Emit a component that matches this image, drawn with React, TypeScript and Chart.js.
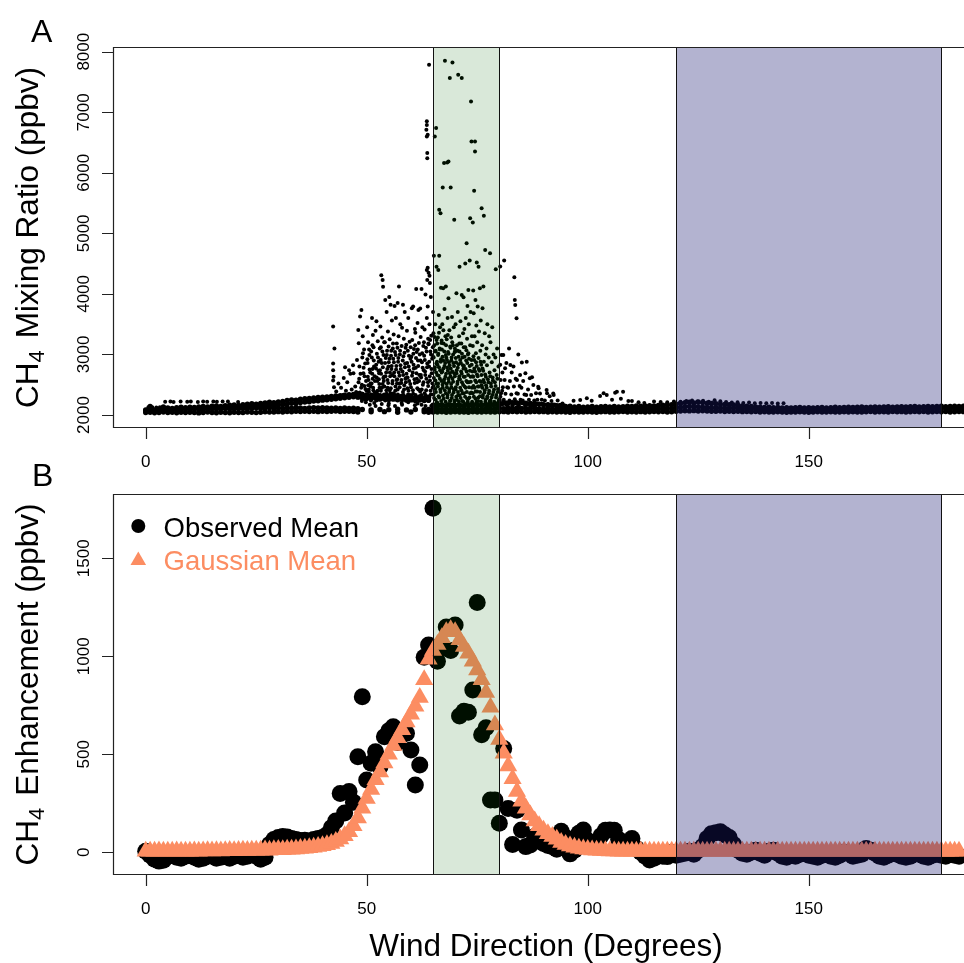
import React, { useEffect, useRef } from "react";
import { Chart, registerables } from "chart.js";
Chart.register(...registerables);

const FONT = '"Liberation Sans", Arial, Helvetica, sans-serif';

// ---------- shared ----------
const xTicks = [0, 50, 100, 150];
const greenSector = [65, 80];
const blueSector = [120, 180];

// ---------- Panel A : CH4 mixing ratio (ppbv) vs wind direction ----------
const yTicksA = [2000, 3000, 4000, 5000, 6000, 7000, 8000];

const bandDeg = [
  0,1,2,3,4,5,6,7,8,9,10,11,12,13,14,15,16,17,18,19,20,21,22,23,24,25,26,27,28,29,
  30,31,32,33,34,35,36,37,38,39,40,41,42,43,44,45,46,47,48,49,50,51,52,53,54,55,56,57,58,59,
  60,61,62,63,64,65,66,67,68,69,70,71,72,73,74,75,76,77,78,79,80,81,82,83,84,85,86,87,88,89,
  90,91,92,93,94,95,96,97,98,99,100,101,102,103,104,105,106,107,108,109,110,111,112,113,114,115,116,117,118,119,
  120,121,122,123,124,125,126,127,128,129,130,131,132,133,134,135,136,137,138,139,140,141,142,143,144,145,146,147,148,149,
  150,151,152,153,154,155,156,157,158,159,160,161,162,163,164,165,166,167,168,169,170,171,172,173,174,175,176,177,178,179,
  180,181,182,183,184,185,
];

const bandLow: (number | null)[] = [
  2040,2045,2038,2042,2050,2040,2045,2038,2044,2040,
  2046,2040,2035,2042,2048,2040,2036,2044,2040,2038,
  2045,2040,2042,2050,2044,2040,2046,2052,2048,2050,
  2055,2050,2058,2052,2060,2056,2062,2058,2060,2055,
  2062,2058,2060,2064,2058,2062,2060,2056,2050,null,
  null,2052,null,null,2055,null,null,2046,null,null,
  2050,null,null,2052,2045,2050,2048,2052,2046,2050,
  2052,2048,2050,2046,2052,2048,2050,2054,2050,2048,
  2052,2055,2050,2058,2052,2056,2050,2054,2058,2052,
  2055,2050,2052,2048,2054,2050,2046,2052,2048,2050,
  2054,2050,2046,2052,2055,2050,2048,2052,2056,2050,
  2052,2048,2055,2050,2054,2058,2052,2056,2050,2054,
  2060,2065,2070,2068,2072,2065,2070,2066,2062,2060,
  2064,2058,2062,2056,2060,2055,2058,2052,2056,2050,
  2054,2050,2048,2052,2050,2046,2050,2048,2052,2050,
  2046,2050,2052,2048,2050,2054,2050,2048,2052,2050,
  2054,2050,2048,2052,2056,2050,2054,2052,2050,2056,
  2052,2055,2050,2054,2058,2052,2056,2050,2054,2058,
  2052,2056,2050,2054,2058,2055,
];

const bandMid: (number | null)[] = [
  2085,2090,2080,2088,2092,2085,2090,2082,2088,2095,
  2090,2098,2092,2100,2095,2105,2098,2102,2108,2100,
  2110,2105,2115,2108,2112,2118,2110,2115,2120,2112,
  2115,2110,2118,2112,2120,2115,2110,2118,2122,2115,
  2120,2115,2112,2118,2110,2115,2108,2112,2105,2090,
  null,2085,null,2092,null,2088,null,2095,null,2084,
  null,2090,null,2086,2090,2095,2100,2092,2098,2094,
  2090,2096,2092,2098,2094,2100,2096,2102,2098,2104,
  2110,2105,2112,2108,2115,2110,2106,2112,2108,2102,
  2098,2104,2100,2096,2102,2098,2094,2100,2096,2092,
  2098,2094,2100,2096,2092,2098,2094,2100,2096,2102,
  2098,2104,2100,2106,2102,2108,2104,2110,2106,2112,
  2120,2130,2135,2140,2132,2138,2130,2125,2120,2115,
  2118,2112,2108,2114,2110,2106,2102,2108,2104,2100,
  2096,2100,2094,2098,2092,2096,2090,2094,2098,2092,
  2096,2090,2094,2098,2092,2096,2100,2094,2098,2102,
  2096,2100,2104,2098,2102,2096,2100,2104,2108,2102,
  2106,2100,2104,2108,2102,2106,2110,2104,2108,2112,
  2106,2110,2104,2108,2112,2106,
];

const bandHigh: (number | null)[] = [
  2070,2140,2072,2068,2135,2118,2110,2122,2128,2120,
  2130,2125,2135,2140,2132,2145,2150,2142,2155,2160,
  2165,2158,2170,2178,2185,2180,2192,2200,2210,2205,
  2215,2225,2240,2250,2245,2260,2268,2275,2282,2290,
  2295,2300,2308,2315,2320,2328,2335,2340,2350,2340,
  2330,2320,2335,2310,2325,2300,2315,2295,2310,2290,
  2305,2285,2300,2280,2295,2160,2150,2165,2155,2160,
  2150,2160,2155,2165,2160,2170,2165,2175,2180,2185,
  2190,2200,2195,2205,2200,2210,2195,2190,2185,2180,
  2170,2165,2160,2150,2155,2140,2145,2135,2140,2130,
  2135,2140,2130,2138,2142,2135,2140,2132,2138,2145,
  2140,2148,2145,2150,2155,2150,2158,2160,2165,2170,
  2180,2195,2205,2210,2200,2215,2205,2195,2190,2185,
  2180,2175,2170,2165,2160,2150,2145,2140,2135,2130,
  2125,2130,2120,2125,2118,2122,2115,2120,2125,2118,
  2122,2115,2120,2125,2118,2122,2128,2120,2125,2130,
  2124,2128,2132,2126,2130,2135,2128,2132,2136,2130,
  2134,2138,2132,2136,2140,2134,2138,2142,2136,2140,
  2144,2138,2142,2146,2140,2144,
];

const streakDeg = [
  18,19,20,21,22,23,24,25,26,27,28,29,30,31,32,33,34,35,36,37,38,39,40,41,
  42,43,44,45,46,47,48,49,50,51,52,53,54,55,56,57,58,59,60,61,62,63,64,
];
const streakVal = [
  2125,2130,2138,2130,2142,2140,2148,2150,2155,2160,2165,2160,2168,2175,2180,2195,
  2190,2205,2215,2220,2230,2235,2245,2250,2260,2268,2275,2285,2292,2300,2295,2280,
  2275,2268,2280,2262,2270,2255,2262,2250,2258,2245,2252,2240,2248,2238,2245,
];

const sparseA: [number, number][] = [
  [4.4,2220],[5.6,2225],[6.3,2215],[7.9,2222],[9.4,2218],[10.2,2224],[11.8,2216],[13.0,2222],
  [13.9,2219],[15.3,2225],[16.1,2217],[17.4,2221],[18.6,2223],[20.9,2214],[0.6,2126],[1.5,2130],
  [2.4,2122],[3.2,2128],
  [96.8,2237],[98.3,2248],[99.8,2276],[100.9,2237],[102.8,2314],[103.6,2358],[104.3,2331],[106.2,2369],
  [106.6,2385],[109.2,2232],[110.0,2232],[108.0,2385],[105.5,2250],[107.5,2270],[111.5,2210],[112.8,2200],
  [115.0,2221],[116.5,2215],[118.0,2210],[119.5,2225],[121.0,2218],[122.3,2230],[123.6,2240],[124.8,2225],
  [126.1,2235],[127.4,2220],[128.7,2245],[130.0,2228],[131.3,2215],[132.6,2205],[133.9,2212],[135.2,2200],
  [136.5,2205],[137.8,2196],[139.1,2200],[140.4,2193],[141.7,2198],[143.0,2190],[144.3,2193],
  [81.05,2190],[81.5,2210],[82.1,2190],[82.6,2210],[83.2,2200],[83.7,2215],[84.3,2195],[84.9,2205],
  [85.4,2190],[86.0,2200],[86.6,2185],[87.2,2195],[87.8,2180],[88.4,2190],[89.0,2175],[89.6,2185],
  [90.3,2170],[91.0,2180],[91.7,2165],[92.4,2175],[93.1,2160],[93.8,2170],[94.6,2160],
];

const plumeA: [number, number][] = [
  [42.4,3460],[42.7,3100],[42.4,2850],[42.4,2740],[42.5,2630],[42.4,2570],[42.6,2460],[43.1,2390],[43.6,2520],
  [44.2,2450],[44.8,2610],[45.1,2790],[45.6,2540],[46.0,2740],[46.3,2680],[46.9,2820],[47.0,2690],[47.4,2470],
  [47.8,2910],[48.1,3405],[48.2,3185],[48.5,3625],[48.3,2600],[47.6,2380],[46.6,2420],[45.3,2400],[44.6,2330],
  [48.8,3735],[49.1,3300],[49.0,2950],[49.3,2780],[49.5,2640],[48.9,2500],[49.7,2430],[49.2,2300],[49.8,2210],
  [49.4,3080],[50.1,3450],[50.3,3200],[50.6,2990],[50.2,2860],[50.8,2700],[50.4,2580],[50.9,2470],[50.5,2380],
  [50.0,2260],[50.7,2170],[51.2,3600],[51.4,3320],[51.0,3050],[51.6,2900],[51.3,2760],[51.8,2640],[51.1,2520],
  [51.5,2410],[51.9,2300],[51.7,2200],[51.3,3150],[52.2,3550],[52.0,3390],[52.5,3220],[52.3,3010],[52.7,2880],
  [52.1,2770],[52.8,2690],[52.4,2560],[52.9,2450],[52.6,2330],[52.2,2240],[52.0,2150],
  [53.3,4310],[53.6,4230],[53.7,4117],[53.1,3460],[53.5,3280],[53.2,3120],[53.8,2990],[53.4,2860],[53.0,2740],
  [53.9,2630],[53.6,2510],[53.2,2400],[53.8,2290],[53.4,2180],[54.2,3900],[54.5,3700],[54.8,3380],[54.1,3200],
  [54.6,3060],[54.3,2940],[54.9,2800],[54.4,2700],[54.7,2580],[54.0,2470],[54.5,2350],[54.2,2240],[54.9,2160],
  [55.1,3950],[55.4,3820],[55.7,3560],[55.2,3250],[55.9,3100],[55.5,2980],[55.0,2870],[55.6,2760],[55.3,2640],
  [55.8,2520],[55.2,2410],[55.6,2300],[55.0,2190],[56.3,3800],[56.6,3600],[56.1,3330],[56.8,3180],[56.4,3040],
  [56.0,2930],[56.7,2810],[56.2,2700],[56.9,2590],[56.5,2470],[56.1,2360],[56.8,2250],[56.4,2150],
  [57.3,4121],[57.0,3850],[57.6,3500],[57.2,3300],[57.9,3140],[57.5,3000],[57.1,2880],[57.7,2760],[57.4,2650],
  [57.8,2530],[57.0,2420],[57.5,2310],[57.9,2200],[58.2,3820],[58.6,3700],[58.0,3440],[58.4,3260],[58.8,3110],
  [58.3,2970],[58.7,2850],[58.1,2720],[58.9,2610],[58.5,2490],[58.2,2380],[58.6,2270],[58.0,2170],[59.4,3600],
  [59.1,3390],[59.7,3210],[59.3,3060],[59.9,2930],[59.5,2800],[59.0,2680],[59.6,2560],[59.2,2440],[59.8,2330],
  [59.4,2210],[60.2,3762],[60.5,3790],[60.9,3420],[60.3,3240],[60.7,3090],[60.1,2960],[60.6,2830],[60.4,2700],
  [60.8,2590],[60.0,2460],[60.5,2350],[60.3,2240],[60.9,2160],
  [61.2,4080],[61.7,3735],[61.5,3520],[61.0,3360],[61.8,3190],[61.3,3040],[61.6,2900],[61.1,2780],[61.9,2660],
  [61.4,2540],[61.7,2420],[61.2,2300],[61.5,2190],[62.4,4080],[62.1,3760],[62.6,3450],[62.2,3290],[62.8,3140],
  [62.0,3000],[62.5,2870],[62.9,2740],[62.3,2620],[62.7,2500],[62.1,2390],[62.6,2270],[62.4,2170],[63.8,3790],
  [63.3,3990],[63.6,3600],[63.1,3410],[63.9,3260],[63.4,3110],[63.0,2980],[63.7,2850],[63.2,2720],[63.5,2600],
  [63.9,2480],[63.1,2360],[63.6,2250],[63.3,2150],[64.1,7785],[63.6,6850],[63.6,6790],[63.5,6710],[63.8,6630],
  [63.6,6600],[63.7,6325],[63.7,6242],[63.6,4396],[63.8,4430],[64.0,4350],[64.2,4300],[63.7,4231],[64.3,4180],
  [64.5,3950],[64.2,3500],[64.6,3310],[64.0,3170],[64.4,3050],[64.8,2930],[64.1,2800],[64.7,2690],[64.3,2570],
  [64.9,2450],[64.5,2340],[64.0,2230],[64.6,2150],
  [65.7,6738],[65.4,6600],[65.8,4450],[66.2,4396],[65.2,4630],[65.0,3700],[65.5,3500],[65.1,3350],[65.8,3240],
  [65.3,3150],[65.6,3060],[65.0,2960],[65.9,2880],[65.4,2790],[65.7,2700],[65.2,2610],[65.8,2520],[65.5,2430],
  [65.1,2340],[65.6,2250],[65.3,2170],[66.4,5388],[66.7,5333],[66.4,4628],[66.8,4100],[66.3,3650],[66.6,3450],
  [66.1,3280],[66.9,3190],[66.5,3100],[66.2,3010],[66.8,2920],[66.0,2830],[66.6,2740],[66.3,2650],[66.9,2560],
  [66.1,2470],[66.7,2380],[66.4,2290],[66.0,2200],[67.7,7851],[67.5,6160],[67.2,5757],[67.3,4093],[67.6,3750],
  [67.1,3500],[67.8,3300],[67.4,3180],[67.0,3080],[67.9,2990],[67.3,2900],[67.6,2810],[67.1,2720],[67.8,2630],
  [67.5,2540],[67.2,2450],[67.9,2360],[67.4,2270],[67.0,2180],[68.8,7564],[68.5,6188],[68.2,6170],[67.9,4121],
  [68.5,3927],[68.3,3600],[68.7,3400],[68.1,3250],[68.9,3130],[68.4,3040],[68.0,2950],[68.6,2870],[68.2,2780],
  [68.8,2690],[68.5,2600],[68.1,2510],[68.7,2420],[68.3,2330],[68.9,2240],[68.6,2160],
  [69.4,7823],[69.0,5757],[69.8,5223],[69.3,3620],[69.7,3450],[69.1,3280],[69.5,3150],[69.9,3040],[69.2,2950],
  [69.6,2860],[69.0,2770],[69.8,2690],[69.4,2600],[69.1,2510],[69.7,2420],[69.3,2330],[69.9,2240],[69.5,2160],
  [70.7,7619],[70.3,4010],[70.6,3700],[70.1,3500],[70.9,3300],[70.4,3150],[70.0,3050],[70.8,2960],[70.2,2870],
  [70.6,2780],[70.3,2690],[70.9,2600],[70.5,2510],[70.1,2420],[70.7,2330],[70.4,2250],[70.0,2170],[71.5,7564],
  [71.0,4450],[71.5,3983],[71.2,3550],[71.8,3350],[71.4,3180],[71.0,3050],[71.7,2950],[71.3,2860],[71.9,2770],
  [71.5,2680],[71.1,2590],[71.8,2500],[71.4,2410],[71.0,2320],[71.6,2230],[71.2,2150],[72.6,4837],[72.3,4500],
  [71.9,3944],[72.8,3800],[72.4,3600],[72.1,3420],[72.7,3260],[72.3,3120],[72.9,3000],[72.5,2900],[72.0,2810],
  [72.6,2720],[72.2,2630],[72.8,2540],[72.4,2450],[72.0,2360],[72.7,2270],[72.3,2180],
  [73.6,7179],[73.7,6517],[73.4,5250],[73.3,4550],[73.0,4066],[73.5,3700],[73.1,3500],[73.8,3300],[73.4,3150],
  [73.0,3020],[73.7,2910],[73.3,2810],[73.9,2720],[73.5,2630],[73.1,2540],[73.8,2450],[73.4,2360],[73.0,2270],
  [73.6,2180],[74.5,6517],[74.5,6352],[74.3,5702],[74.0,5178],[74.9,4520],[74.1,4055],[74.6,3900],[74.2,3680],
  [74.8,3480],[74.4,3300],[74.0,3140],[74.7,3020],[74.3,2910],[74.9,2810],[74.5,2720],[74.1,2630],[74.8,2540],
  [74.4,2450],[74.0,2360],[74.6,2270],[74.2,2180],[75.3,4450],[75.6,4093],[75.1,3790],[75.8,3560],[75.4,3380],
  [75.0,3200],[75.7,3060],[75.3,2940],[75.9,2830],[75.5,2730],[75.1,2640],[75.8,2550],[75.4,2470],[75.0,2390],
  [75.6,2310],[75.2,2230],[75.9,2160],[76.0,5415],[76.5,5289],[76.8,4727],[76.4,4121],[76.2,3762],[76.7,3350],
  [76.1,3150],[76.9,3000],[76.5,2880],[76.2,2770],[76.8,2670],[76.4,2580],[76.0,2490],[76.7,2410],[76.3,2330],
  [76.9,2250],[76.6,2170],
  [77.9,4672],[77.3,3500],[77.7,3300],[77.1,3100],[77.6,2950],[77.2,2820],[77.8,2700],[77.4,2590],[77.0,2490],
  [77.7,2400],[77.3,2310],[77.9,2230],[77.5,2150],[78.4,3450],[78.0,3200],[78.7,3000],[78.3,2870],[78.9,2740],
  [78.5,2620],[78.1,2520],[78.8,2420],[78.4,2330],[78.0,2240],[78.6,2160],[79.2,4407],[79.5,3100],[79.1,2950],
  [79.8,2800],[79.4,2660],[79.0,2540],[79.7,2430],[79.3,2330],[79.9,2240],[79.5,2160],[80.2,4451],[80.5,2990],
  [80.9,2992],[80.2,2830],[80.7,2700],[80.3,2580],[80.8,2460],[80.4,2360],[80.0,2260],[80.6,2170],[81.1,4550],
  [81.3,2772],[81.6,2860],[81.2,2580],[81.8,2460],[81.4,2350],[81.0,2250],[81.7,2160],[82.5,2827],[82.2,3100],
  [82.8,2700],[82.4,2560],[82.0,2450],[82.7,2340],[82.3,2240],[82.9,2150],[83.4,4275],[83.5,3900],[83.6,3818],
  [83.9,3597],[83.2,2799],[83.7,2600],[83.3,2470],[83.9,2360],[83.5,2260],[83.1,2170],[84.0,2579],[84.7,2661],
  [84.3,3000],[84.6,2480],[84.2,2350],[84.8,2250],[84.4,2160],
  [85.1,2865],[85.9,2689],[85.4,2560],[85.0,2450],[85.7,2340],[85.3,2240],[85.8,2150],[86.2,2880],[86.9,2605],
  [86.5,2420],[86.1,2331],[86.7,2250],[86.3,2170],[87.4,2623],[87.7,2496],[87.2,2330],[87.9,2240],[87.5,2160],
  [88.8,2468],[88.9,2441],[88.3,2358],[88.6,2250],[88.1,2150],[89.2,2357],[89.6,2250],[89.9,2170],[90.7,2412],
  [90.8,2358],[90.3,2240],[90.9,2160],[91.4,2310],[91.8,2230],[92.2,2357],[92.3,2331],[92.7,2170],[93.2,2240],
  [93.6,2160],[94.3,2190],
];

// extra measurements filling the dense core of the plume
const plumeCore: [number, number][] = [
  [48.05,2290],[48.45,2370],[48.75,2450],[48.15,2540],[48.6,2680],[48.35,2800],[48.9,2230],
  [49.05,2350],[49.45,2480],[49.85,2560],[49.25,2690],[49.65,2850],[49.15,3020],[49.55,2260],[49.95,2400],
  [50.05,2310],[50.45,2420],[50.85,2520],[50.25,2630],[50.65,2750],[50.15,2920],[50.55,3080],[50.95,2240],[50.35,2490],
  [51.05,2340],[51.45,2450],[51.85,2560],[51.25,2680],[51.65,2800],[51.15,2950],[51.55,3120],[51.95,2270],[51.35,2600],[51.75,2380],
  [52.05,2290],[52.45,2400],[52.85,2510],[52.25,2620],[52.65,2730],[52.15,2830],[52.55,2950],[52.95,3100],[52.35,2350],[52.75,2590],
  [53.05,2330],[53.45,2450],[53.85,2560],[53.25,2680],[53.65,2790],[53.15,2910],[53.55,3050],[53.95,3200],[53.35,2270],[53.75,2610],
  [54.05,2300],[54.45,2410],[54.85,2530],[54.25,2640],[54.65,2760],[54.15,2860],[54.55,2990],[54.95,3130],[54.35,2280],[54.75,2450],
  [55.05,2320],[55.45,2440],[55.85,2560],[55.25,2700],[55.65,2810],[55.15,2930],[55.55,3060],[55.95,3180],[55.35,2360],[55.75,2660],
  [56.05,2290],[56.45,2400],[56.85,2520],[56.25,2640],[56.65,2750],[56.15,2870],[56.55,2990],[56.95,3110],[56.35,2330],[56.75,2580],
  [57.05,2340],[57.45,2460],[57.85,2580],[57.25,2700],[57.65,2820],[57.15,2940],[57.55,3060],[57.95,2280],[57.35,2520],
  [58.05,2300],[58.45,2420],[58.85,2540],[58.25,2660],[58.65,2790],[58.15,2900],[58.55,3030],[58.95,3160],[58.35,2330],[58.75,2600],
  [59.05,2290],[59.45,2400],[59.85,2510],[59.25,2620],[59.65,2740],[59.15,2860],[59.55,2980],[59.95,3120],[59.35,2340],
  [60.05,2300],[60.45,2410],[60.85,2530],[60.25,2650],[60.65,2770],[60.15,2880],[60.55,3010],[60.95,3150],[60.35,2270],
  [61.05,2330],[61.45,2440],[61.85,2560],[61.25,2690],[61.65,2810],[61.15,2940],[61.55,3080],[61.95,2260],[61.35,2600],
  [62.05,2300],[62.45,2420],[62.85,2540],[62.25,2660],[62.65,2780],[62.15,2900],[62.55,3020],[62.95,3200],[62.35,2330],
  [63.05,2290],[63.45,2410],[63.85,2540],[63.25,2660],[63.65,2790],[63.15,2910],[63.55,3050],[63.95,3180],[63.35,2320],
  [64.05,2290],[64.45,2400],[64.85,2520],[64.25,2640],[64.65,2760],[64.15,2880],[64.55,3000],[64.95,3120],[64.35,3240],
  [65.05,2110],[65.45,2160],[65.85,2210],[65.25,2280],[65.65,2380],[65.15,2480],[65.55,2570],[65.95,2660],[65.35,2750],[65.75,2850],[65.15,2950],[65.55,3050],[65.95,3180],[65.35,3290],
  [66.05,2120],[66.45,2170],[66.85,2230],[66.25,2310],[66.65,2420],[66.15,2520],[66.55,2600],[66.95,2700],[66.35,2790],[66.75,2880],[66.15,2990],[66.55,3080],[66.95,3230],[66.35,3360],
  [67.05,2110],[67.45,2160],[67.85,2220],[67.25,2320],[67.65,2410],[67.15,2500],[67.55,2590],[67.95,2680],[67.35,2770],[67.75,2860],[67.15,2960],[67.55,3050],[67.95,3150],[67.35,3400],
  [68.05,2120],[68.45,2180],[68.85,2230],[68.25,2290],[68.65,2380],[68.15,2460],[68.55,2550],[68.95,2640],[68.35,2730],[68.75,2820],[68.15,2910],[68.55,3010],[68.95,3110],[68.35,3320],
  [69.05,2110],[69.45,2170],[69.85,2220],[69.25,2280],[69.65,2370],[69.15,2460],[69.55,2550],[69.95,2640],[69.35,2720],[69.75,2810],[69.15,2900],[69.55,3000],[69.95,3100],[69.35,3200],
  [70.05,2120],[70.45,2170],[70.85,2220],[70.25,2300],[70.65,2380],[70.15,2460],[70.55,2550],[70.95,2640],[70.35,2740],[70.75,2840],[70.15,2940],[70.55,3060],[70.95,3180],
  [71.05,2110],[71.45,2160],[71.85,2220],[71.25,2280],[71.65,2360],[71.15,2450],[71.55,2540],[71.95,2630],[71.35,2720],[71.75,2820],[71.15,2910],[71.55,3010],[71.95,3120],
  [72.05,2120],[72.45,2170],[72.85,2220],[72.25,2300],[72.65,2380],[72.15,2470],[72.55,2560],[72.95,2660],[72.35,2760],[72.75,2860],[72.15,2960],[72.55,3070],
  [73.05,2110],[73.45,2160],[73.85,2220],[73.25,2290],[73.65,2370],[73.15,2460],[73.55,2550],[73.95,2640],[73.35,2730],[73.75,2830],[73.15,2930],
  [74.05,2120],[74.45,2170],[74.85,2220],[74.25,2300],[74.65,2390],[74.15,2480],[74.55,2570],[74.95,2670],[74.35,2770],[74.75,2870],[74.15,2970],
  [75.05,2110],[75.45,2160],[75.85,2220],[75.25,2290],[75.65,2380],[75.15,2470],[75.55,2560],[75.95,2660],[75.35,2760],[75.75,2880],
  [76.05,2120],[76.45,2170],[76.85,2220],[76.25,2290],[76.65,2370],[76.15,2450],[76.55,2540],[76.95,2630],[76.35,2730],
  [77.05,2110],[77.45,2160],[77.85,2220],[77.25,2280],[77.65,2360],[77.15,2450],[77.55,2540],[77.95,2640],
  [78.05,2120],[78.45,2170],[78.85,2220],[78.25,2290],[78.65,2380],[78.15,2470],[78.55,2570],
  [79.05,2110],[79.45,2170],[79.85,2220],[79.25,2290],[79.65,2380],[79.15,2480],[79.55,2600],
  [80.05,2120],[80.45,2180],[80.85,2230],[80.25,2300],[80.65,2400],
];

// ---------- Panel B : CH4 enhancement (ppbv) ----------
const yTicksB = [0, 500, 1000, 1500];

const degB = [
  0,1,2,3,4,5,6,7,8,9,10,11,12,13,14,15,16,17,18,19,20,21,22,23,24,25,26,27,28,29,
  30,31,32,33,34,35,36,37,38,39,40,41,42,43,44,45,46,47,48,49,50,51,52,53,54,55,56,57,58,59,
  60,61,62,63,64,65,66,67,68,69,70,71,72,73,74,75,76,77,78,79,80,81,82,83,84,85,86,87,88,89,
  90,91,92,93,94,95,96,97,98,99,100,101,102,103,104,105,106,107,108,109,110,111,112,113,114,115,116,117,118,119,
  120,121,122,123,124,125,126,127,128,129,130,131,132,133,134,135,136,137,138,139,140,141,142,143,144,145,146,147,148,149,
  150,151,152,153,154,155,156,157,158,159,160,161,162,163,164,165,166,167,168,169,170,171,172,173,174,175,176,177,178,179,
  180,181,182,183,184,
];

const observedMean = [
  5,-15,-35,-45,-40,-20,-15,-25,-30,-20,
  -15,-25,-35,-30,-20,-10,-30,-25,-15,-30,
  -20,-15,-25,-20,-10,-20,-35,-25,40,65,
  75,80,78,70,65,60,62,58,65,70,
  75,90,125,160,300,200,310,255,488,794,
  369,454,513,437,590,620,641,560,600,607,
  522,343,445,995,1058,1755,975,1040,1150,1030,
  1160,695,720,715,828,1275,600,635,267,267,
  148,530,224,40,215,114,29,37,80,60,
  45,35,29,15,108,75,-8,10,97,114,
  60,40,30,85,112,114,112,65,40,50,
  71,20,0,-20,-39,-30,-10,-20,-22,0,
  -15,-10,-5,5,-10,10,30,70,95,100,
  105,90,75,40,10,-5,-10,0,10,-5,
  -15,5,10,-5,-20,-25,-15,-20,-10,-5,
  -15,-20,-25,-15,-10,-20,-25,-15,0,-5,
  -20,-15,-10,20,10,-5,-20,-25,-15,-5,
  -10,-20,-25,-20,-5,-10,-20,-25,-15,-10,
  -15,-20,-10,-15,-20,
];

const gaussianMean = [
  5,6,5,7,6,5,6,7,6,5,
  6,7,6,7,8,7,8,7,8,9,
  8,9,10,9,10,11,10,12,11,13,
  14,13,15,16,17,19,21,23,26,29,
  33,38,45,55,68,85,105,135,175,225,
  275,320,370,410,455,500,545,585,625,665,
  705,745,790,880,985,1030,1060,1095,1125,1135,
  1125,1085,1050,1015,975,930,880,815,740,650,
  575,505,440,375,310,260,225,190,160,135,
  112,95,80,66,50,40,32,26,21,17,
  14,12,10,9,8,7,7,6,6,6,
  6,5,5,6,5,5,6,5,5,5,
  6,5,5,6,5,5,5,6,5,5,
  6,5,5,5,6,5,5,6,5,5,
  5,6,5,5,6,5,5,5,6,5,
  5,6,5,5,5,6,5,5,6,5,
  5,5,6,5,5,6,5,5,5,6,
  5,5,6,5,5,5,6,5,5,6,
  5,5,6,5,5,
];

const OBS_COLOR = "#000000";
const GAUSS_COLOR = "#FC8D62";
const GREEN_FILL = "rgba(0,100,0,0.15)";
const BLUE_FILL = "rgba(25,25,112,0.33)";

type PanelCfg = {
  id: string;
  letter: string;
  letterX: number;
  letterY: number;
  yTicks: number[];
  yTitleRest: string;
  xTitle: boolean;
  legend: boolean;
};

function drawYTitle(ctx: CanvasRenderingContext2D, x: number, cy: number, rest: string) {
  ctx.save();
  ctx.translate(x, cy);
  ctx.rotate(-Math.PI / 2);
  const big = `31.5px ${FONT}`;
  const small = `22px ${FONT}`;
  ctx.font = big;
  const wCH = ctx.measureText("CH").width;
  ctx.font = small;
  const w4 = ctx.measureText("4").width;
  ctx.font = big;
  const wRest = ctx.measureText(rest).width;
  const gap = 12;
  const total = wCH + w4 + gap + wRest;
  let p = -total / 2;
  ctx.fillStyle = "#000";
  ctx.textAlign = "left";
  ctx.textBaseline = "alphabetic";
  ctx.font = big;
  ctx.fillText("CH", p, 0);
  p += wCH;
  ctx.font = small;
  ctx.fillText("4", p, 6);
  p += w4 + gap;
  ctx.font = big;
  ctx.fillText(rest, p, 0);
  ctx.restore();
}

function makeDecor(cfg: PanelCfg) {
  return {
    id: cfg.id,
    afterDatasetsDraw(chart: any) {
      const ctx: CanvasRenderingContext2D = chart.ctx;
      const a = chart.chartArea;
      const xs = chart.scales.x;
      const ys = chart.scales.y;
      ctx.save();

      // shaded wind sectors (drawn over the points, semi-transparent)
      const sector = (range: number[], fill: string) => {
        const x0 = Math.round(xs.getPixelForValue(range[0]));
        const x1 = Math.round(xs.getPixelForValue(range[1]));
        ctx.fillStyle = fill;
        ctx.fillRect(x0, a.top, x1 - x0, a.bottom - a.top);
        ctx.strokeStyle = "#111";
        ctx.lineWidth = 1;
        ctx.beginPath();
        ctx.moveTo(x0 + 0.5, a.top);
        ctx.lineTo(x0 + 0.5, a.bottom);
        ctx.moveTo(x1 + 0.5, a.top);
        ctx.lineTo(x1 + 0.5, a.bottom);
        ctx.stroke();
      };
      sector(greenSector, GREEN_FILL);
      sector(blueSector, BLUE_FILL);

      // frame (right edge lies outside the picture)
      ctx.strokeStyle = "#222";
      ctx.lineWidth = 1.2;
      ctx.beginPath();
      ctx.moveTo(a.right + 2, a.top + 0.5);
      ctx.lineTo(a.left + 0.5, a.top + 0.5);
      ctx.lineTo(a.left + 0.5, a.bottom - 0.5);
      ctx.lineTo(a.right + 2, a.bottom - 0.5);
      ctx.stroke();

      // x ticks + labels
      ctx.fillStyle = "#000";
      ctx.font = `17px ${FONT}`;
      ctx.textAlign = "center";
      ctx.textBaseline = "alphabetic";
      ctx.beginPath();
      for (const t of xTicks) {
        const px = Math.round(xs.getPixelForValue(t)) + 0.5;
        ctx.moveTo(px, a.bottom);
        ctx.lineTo(px, a.bottom + 11);
      }
      ctx.stroke();
      for (const t of xTicks) {
        ctx.fillText(String(t), xs.getPixelForValue(t), a.bottom + 39);
      }

      // y ticks + rotated labels
      ctx.beginPath();
      for (const t of cfg.yTicks) {
        const py = Math.round(ys.getPixelForValue(t)) + 0.5;
        ctx.moveTo(a.left, py);
        ctx.lineTo(a.left - 11, py);
      }
      ctx.stroke();
      for (const t of cfg.yTicks) {
        ctx.save();
        ctx.translate(89, ys.getPixelForValue(t));
        ctx.rotate(-Math.PI / 2);
        ctx.fillText(String(t), 0, 0);
        ctx.restore();
      }

      // y title
      drawYTitle(ctx, 37.5, (a.top + a.bottom) / 2, cfg.yTitleRest);

      // panel letter
      ctx.font = `32px ${FONT}`;
      ctx.textAlign = "left";
      ctx.fillStyle = "#000";
      ctx.fillText(cfg.letter, cfg.letterX, cfg.letterY);

      // x title
      if (cfg.xTitle) {
        ctx.font = `31.5px ${FONT}`;
        ctx.textAlign = "center";
        ctx.fillText("Wind Direction (Degrees)", 546, a.bottom + 81);
      }

      // legend
      if (cfg.legend) {
        const lx = 138.3;
        ctx.fillStyle = OBS_COLOR;
        ctx.beginPath();
        ctx.arc(lx, a.top + 32, 7, 0, Math.PI * 2);
        ctx.fill();
        const r = 9;
        const cy = a.top + 66.6;
        ctx.fillStyle = GAUSS_COLOR;
        ctx.beginPath();
        ctx.moveTo(lx, cy - r);
        ctx.lineTo(lx + r * 0.866, cy + r / 2);
        ctx.lineTo(lx - r * 0.866, cy + r / 2);
        ctx.closePath();
        ctx.fill();
        ctx.font = `27.5px ${FONT}`;
        ctx.textAlign = "left";
        ctx.fillStyle = "#000";
        ctx.fillText("Observed Mean", 163.5, a.top + 42.7);
        ctx.fillStyle = GAUSS_COLOR;
        ctx.fillText("Gaussian Mean", 163.5, a.top + 75.5);
      }
      ctx.restore();
    },
  };
}

const X_MIN = -7.4;
const X_MAX = 185.13;

export default function App() {
  const refA = useRef<HTMLCanvasElement | null>(null);
  const refB = useRef<HTMLCanvasElement | null>(null);

  useEffect(() => {
    const rowPts = (vals: (number | null)[]) =>
      bandDeg
        .map((d, i) => ({ x: d, y: vals[i] }))
        .filter((p) => p.y !== null) as { x: number; y: number }[];
    const bandStyle = {
      pointRadius: 2.7,
      pointHoverRadius: 2.7,
      pointBackgroundColor: "#000",
      pointBorderWidth: 0,
      showLine: false,
    };
    const dotStyle = {
      pointRadius: 2.0,
      pointHoverRadius: 2.0,
      pointBackgroundColor: "#000",
      pointBorderWidth: 0,
      showLine: false,
    };
    const chartA = new Chart(refA.current as HTMLCanvasElement, {
      type: "scatter",
      data: {
        datasets: [
          { data: rowPts(bandLow), ...bandStyle },
          { data: rowPts(bandMid), ...bandStyle },
          { data: rowPts(bandHigh), ...bandStyle },
          { data: streakDeg.map((d, i) => ({ x: d, y: streakVal[i] })), ...bandStyle },
          { data: sparseA.map(([x, y]) => ({ x, y })), ...dotStyle },
          { data: plumeA.map(([x, y]) => ({ x, y })), ...dotStyle },
          { data: plumeCore.map(([x, y]) => ({ x, y })), ...dotStyle },
        ],
      },
      options: {
        animation: false,
        responsive: false,
        maintainAspectRatio: false,
        devicePixelRatio: 1,
        events: [],
        layout: { autoPadding: false, padding: { left: 113, top: 47, right: 0, bottom: 52 } },
        scales: {
          x: { type: "linear", min: X_MIN, max: X_MAX, display: false },
          y: { type: "linear", min: 1785.3, max: 8077.6, display: false },
        },
        plugins: { legend: { display: false }, tooltip: { enabled: false } },
      },
      plugins: [
        makeDecor({
          id: "decorA",
          letter: "A",
          letterX: 31,
          letterY: 42,
          yTicks: yTicksA,
          yTitleRest: "Mixing Ratio (ppbv)",
          xTitle: false,
          legend: false,
        }),
      ],
    } as any);

    const chartB = new Chart(refB.current as HTMLCanvasElement, {
      type: "scatter",
      data: {
        datasets: [
          {
            label: "Gaussian Mean",
            data: degB.map((d, i) => ({ x: d, y: gaussianMean[i] })),
            pointStyle: "triangle",
            pointRadius: 10.5,
            pointHoverRadius: 10.5,
            pointBackgroundColor: GAUSS_COLOR,
            pointBorderWidth: 0,
            showLine: false,
            order: 0,
          },
          {
            label: "Observed Mean",
            data: degB.map((d, i) => ({ x: d, y: observedMean[i] })),
            pointStyle: "circle",
            pointRadius: 8.5,
            pointHoverRadius: 8.5,
            pointBackgroundColor: OBS_COLOR,
            pointBorderWidth: 0,
            showLine: false,
            order: 1,
          },
        ],
      },
      options: {
        animation: false,
        responsive: false,
        maintainAspectRatio: false,
        devicePixelRatio: 1,
        events: [],
        layout: { autoPadding: false, padding: { left: 113, top: 44, right: 0, bottom: 88 } },
        scales: {
          x: { type: "linear", min: X_MIN, max: X_MAX, display: false },
          y: { type: "linear", min: -115.8, max: 1828.1, display: false },
        },
        plugins: { legend: { display: false }, tooltip: { enabled: false } },
      },
      plugins: [
        makeDecor({
          id: "decorB",
          letter: "B",
          letterX: 32,
          letterY: 36,
          yTicks: yTicksB,
          yTitleRest: "Enhancement (ppbv)",
          xTitle: true,
          legend: true,
        }),
      ],
    } as any);

    return () => {
      chartA.destroy();
      chartB.destroy();
    };
  }, []);

  return (
    <div style={{ position: "absolute", left: 0, top: 0, width: 964, height: 963, overflow: "hidden", background: "#fff" }}>
      <canvas ref={refA} width={964} height={480} style={{ position: "absolute", left: 0, top: 0, width: 964, height: 480 }} />
      <canvas ref={refB} width={964} height={513} style={{ position: "absolute", left: 0, top: 450, width: 964, height: 513 }} />
    </div>
  );
}
